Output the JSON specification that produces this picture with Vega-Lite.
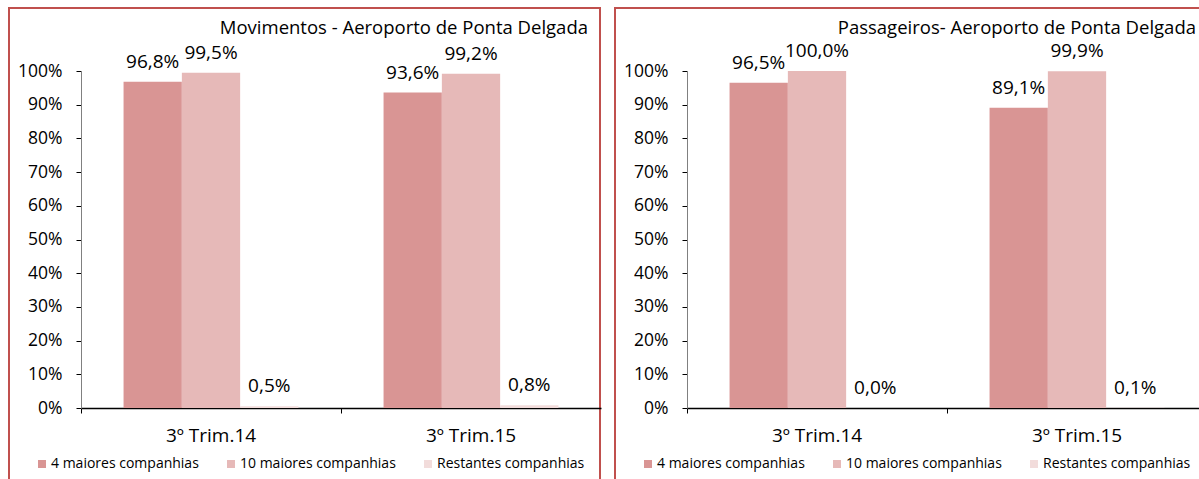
{
  "$schema": "https://vega.github.io/schema/vega-lite/v6.json",
  "padding": {"left": 8, "top": 7, "right": 0, "bottom": 0},
  "background": "white",
  "spacing": 13,
  "config": {
    "locale": {"number": {"decimal": ",", "thousands": ".", "grouping": [3], "currency": ["", " €"]}},
    "view": {"stroke": "#C0504D", "strokeWidth": 2},
    "font": "Open Sans",
    "axis": {"labelFont": "Open Sans", "labelColor": "#000000", "grid": false, "title": null, "tickColor": "#000000", "domainColor": "#000000"},
    "legend": {"labelFont": "Open Sans"}
  },
  "resolve": {"scale": {"color": "independent", "x": "independent", "y": "independent"}, "legend": {"color": "independent"}},
  "datasets": {
    "mov": [
      {"periodo": "3º Trim.14", "serie": "4 maiores companhias", "valor": 0.968},
      {"periodo": "3º Trim.14", "serie": "10 maiores companhias", "valor": 0.995},
      {"periodo": "3º Trim.14", "serie": "Restantes companhias", "valor": 0.005},
      {"periodo": "3º Trim.15", "serie": "4 maiores companhias", "valor": 0.936},
      {"periodo": "3º Trim.15", "serie": "10 maiores companhias", "valor": 0.992},
      {"periodo": "3º Trim.15", "serie": "Restantes companhias", "valor": 0.008}
    ],
    "pas": [
      {"periodo": "3º Trim.14", "serie": "4 maiores companhias", "valor": 0.965},
      {"periodo": "3º Trim.14", "serie": "10 maiores companhias", "valor": 1.0},
      {"periodo": "3º Trim.14", "serie": "Restantes companhias", "valor": 0.0},
      {"periodo": "3º Trim.15", "serie": "4 maiores companhias", "valor": 0.891},
      {"periodo": "3º Trim.15", "serie": "10 maiores companhias", "valor": 0.999},
      {"periodo": "3º Trim.15", "serie": "Restantes companhias", "valor": 0.001}
    ]
  },
  "hconcat": [
    {
      "width": 591,
      "height": 474,
      "data": {"name": "mov"},
      "title": {"text": "Movimentos - Aeroporto de Ponta Delgada", "anchor": "end", "frame": "group", "offset": -44, "dx": -12, "baseline": "alphabetic", "fontSize": 18.5, "fontWeight": "normal", "font": "Open Sans", "color": "#000000"},
      "encoding": {
        "x": {"field": "periodo", "type": "nominal", "sort": null,
          "scale": {"range": [72, 592], "paddingInner": 0, "paddingOuter": 0},
          "axis": {"orient": "bottom", "offset": -74, "labelAngle": 0, "bandPosition": 0, "tickSize": 5, "labelPadding": 13, "labelFontSize": 19, "domainWidth": 1.5}},
        "xOffset": {"field": "serie", "type": "nominal", "sort": ["4 maiores companhias", "10 maiores companhias", "Restantes companhias"],
          "scale": {"paddingInner": 0, "paddingOuter": 0.73}},
        "y": {"field": "valor", "type": "quantitative",
          "scale": {"domain": [0, 1], "range": [400, 63], "nice": false},
          "axis": {"orient": "left", "offset": -72, "values": [0, 0.1, 0.2, 0.3, 0.4, 0.5, 0.6, 0.7, 0.8, 0.9, 1], "format": ".0%", "tickSize": 5, "labelPadding": 14, "labelFontSize": 17.5, "domainColor": "#808080"}}
      },
      "layer": [
        {
          "mark": {"type": "bar"},
          "encoding": {
            "color": {"field": "serie", "type": "nominal", "sort": ["4 maiores companhias", "10 maiores companhias", "Restantes companhias"],
              "scale": {"domain": ["4 maiores companhias", "10 maiores companhias", "Restantes companhias"], "range": ["#D99594", "#E6B9B8", "#F2DCDB"]},
              "legend": {"orient": "none", "legendX": 26, "legendY": 449, "direction": "horizontal", "title": null, "symbolType": "square", "symbolSize": 64, "symbolStrokeWidth": 0, "labelFontSize": 14, "labelColor": "#000000", "columnPadding": 25, "labelOffset": 2}}
          }
        },
        {
          "mark": {"type": "text", "baseline": "middle", "dy": -20, "fontSize": 19, "color": "#000000"},
          "encoding": {"text": {"field": "valor", "type": "quantitative", "format": ".1%"}}
        }
      ]
    },
    {
      "width": 591,
      "height": 474,
      "data": {"name": "pas"},
      "title": {"text": "Passageiros- Aeroporto de Ponta Delgada", "anchor": "end", "frame": "group", "offset": -44, "dx": -10, "baseline": "alphabetic", "fontSize": 18.5, "fontWeight": "normal", "font": "Open Sans", "color": "#000000"},
      "encoding": {
        "x": {"field": "periodo", "type": "nominal", "sort": null,
          "scale": {"range": [72, 592], "paddingInner": 0, "paddingOuter": 0},
          "axis": {"orient": "bottom", "offset": -74, "labelAngle": 0, "bandPosition": 0, "tickSize": 5, "labelPadding": 13, "labelFontSize": 19, "domainWidth": 1.5}},
        "xOffset": {"field": "serie", "type": "nominal", "sort": ["4 maiores companhias", "10 maiores companhias", "Restantes companhias"],
          "scale": {"paddingInner": 0, "paddingOuter": 0.73}},
        "y": {"field": "valor", "type": "quantitative",
          "scale": {"domain": [0, 1], "range": [400, 63], "nice": false},
          "axis": {"orient": "left", "offset": -72, "values": [0, 0.1, 0.2, 0.3, 0.4, 0.5, 0.6, 0.7, 0.8, 0.9, 1], "format": ".0%", "tickSize": 5, "labelPadding": 14, "labelFontSize": 17.5, "domainColor": "#808080"}}
      },
      "layer": [
        {
          "mark": {"type": "bar"},
          "encoding": {
            "color": {"field": "serie", "type": "nominal", "sort": ["4 maiores companhias", "10 maiores companhias", "Restantes companhias"],
              "scale": {"domain": ["4 maiores companhias", "10 maiores companhias", "Restantes companhias"], "range": ["#D99594", "#E6B9B8", "#F2DCDB"]},
              "legend": {"orient": "none", "legendX": 26, "legendY": 449, "direction": "horizontal", "title": null, "symbolType": "square", "symbolSize": 64, "symbolStrokeWidth": 0, "labelFontSize": 14, "labelColor": "#000000", "columnPadding": 25, "labelOffset": 2}}
          }
        },
        {
          "mark": {"type": "text", "baseline": "middle", "dy": -20, "fontSize": 19, "color": "#000000"},
          "encoding": {"text": {"field": "valor", "type": "quantitative", "format": ".1%"}}
        }
      ]
    }
  ]
}
